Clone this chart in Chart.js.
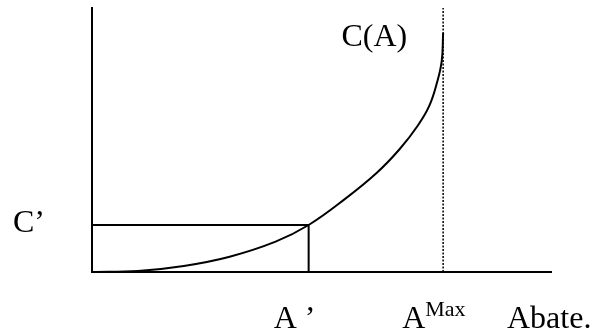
<!DOCTYPE html>
<html>
<head>
<meta charset="utf-8">
<title>Abatement cost curve</title>
<script src="https://cdn.jsdelivr.net/npm/chart.js@4.4.1/dist/chart.umd.min.js"></script>
<style>
    html, body { margin: 0; padding: 0; background: #fff; }
    .wrap { width: 600px; height: 333px; position: relative; }
</style>
</head>
<body>
<div class="wrap"><canvas id="costChart"></canvas></div>
<script>
// cost curve C(A) (abatement 0..100, cost 0..100)
const curveA = [0, 10, 20, 30, 40, 47.2, 55, 62, 67, 71, 73.5, 75.2, 76.2, 76.5];
const curveC = [0, 0.4, 2.3, 5.8, 11.5, 17.8, 27.5, 37.5, 46.5, 55.5, 63, 72, 80, 90.5];

// marked levels
const aPrime = 47.2;
const aMax = 76.5;
const cPrime = 17.8;

// label texts
const curveLabel = 'C(A)';
const xLabels = ['A \u2019', 'A', 'Abate.'];
const maxSup = 'Max';
const yLabel = 'C\u2019';

const curvePts = curveA.map((a, i) => ({ x: a, y: curveC[i] }));

const FONT = "'Liberation Serif', 'Times New Roman', serif";

// draws the text labels next to the axes
const labelPlugin = {
    id: 'labels',
    afterDraw(chart) {
        const ctx = chart.ctx;
        const xs = chart.scales.x;
        const ys = chart.scales.y;
        ctx.save();
        ctx.fillStyle = '#000';
        ctx.textBaseline = 'alphabetic';
        ctx.font = '32px ' + FONT;

        // C(A) by the top of the curve
        ctx.textAlign = 'center';
        ctx.fillText(curveLabel, xs.getPixelForValue(61.5), 46);

        // C' left of the axis
        ctx.textAlign = 'left';
        ctx.fillText(yLabel, 13, ys.getPixelForValue(cPrime) + 7);

        // x labels under the axis
        const base = 328;
        ctx.textAlign = 'center';
        ctx.fillText(xLabels[0], xs.getPixelForValue(aPrime) - 14, base);

        ctx.textAlign = 'left';
        const axPx = xs.getPixelForValue(aMax) - 41;
        ctx.fillText(xLabels[1], axPx, base);
        const aw = ctx.measureText(xLabels[1]).width;
        ctx.font = '22px ' + FONT;
        ctx.fillText(maxSup, axPx + aw, base - 12);

        ctx.font = '32px ' + FONT;
        ctx.fillText(xLabels[2], 507, base);
        ctx.restore();
    }
};

const ctx = document.getElementById('costChart').getContext('2d');

new Chart(ctx, {
    type: 'line',
    data: {
        datasets: [
            {
                label: 'C(A)',
                data: curvePts,
                borderColor: '#000',
                borderWidth: 2,
                pointRadius: 0,
                fill: false,
                tension: 0.4
            },
            {
                label: 'box',
                data: [{ x: 0, y: cPrime }, { x: aPrime, y: cPrime }, { x: aPrime, y: 0 }],
                borderColor: '#000',
                borderWidth: 2,
                pointRadius: 0,
                fill: false,
                tension: 0
            },
            {
                label: 'Amax',
                data: [{ x: aMax, y: 0 }, { x: aMax, y: 100 }],
                borderColor: '#000',
                borderWidth: 1.5,
                borderDash: [2, 1.5],
                pointRadius: 0,
                fill: false
            }
        ]
    },
    options: {
        responsive: true,
        maintainAspectRatio: false,
        animation: false,
        devicePixelRatio: 1,
        layout: {
            padding: { left: 84, right: 49, top: 8, bottom: 53 }
        },
        plugins: {
            legend: { display: false },
            tooltip: { enabled: false }
        },
        scales: {
            x: {
                type: 'linear',
                min: 0,
                max: 100,
                grid: { display: false },
                ticks: { display: false },
                border: { display: true, color: '#000', width: 2 }
            },
            y: {
                type: 'linear',
                min: 0,
                max: 100,
                grid: { display: false },
                ticks: { display: false },
                border: { display: true, color: '#000', width: 2 }
            }
        }
    },
    plugins: [labelPlugin]
});
</script>
</body>
</html>
